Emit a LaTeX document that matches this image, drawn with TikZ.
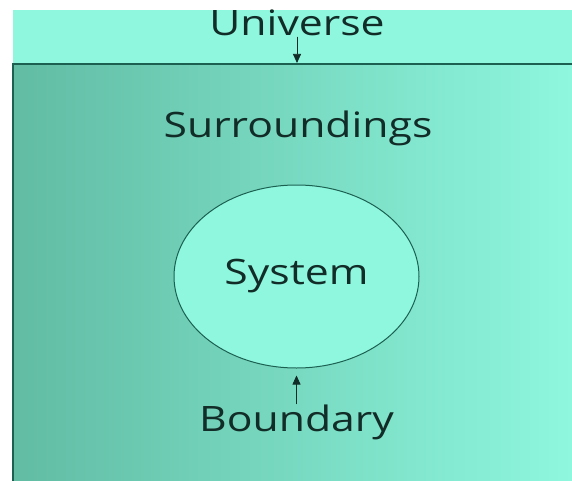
\documentclass[tikz,border=0pt]{standalone}
\usepackage{fontspec}
\usepackage{tikz}
\usetikzlibrary{arrows.meta,shapes.geometric}
\newfontfamily\labelfont[FakeStretch=1.22]{Open Sans}
\definecolor{universefill}{RGB}{142,247,222}
\definecolor{surrleft}{RGB}{98,188,164}
\definecolor{surrright}{RGB}{142,247,222}
\definecolor{edgeline}{RGB}{28,96,82}
\definecolor{labeltext}{RGB}{18,44,40}
\tikzset{
  labeltext/.style={font=\labelfont\fontsize{35}{40}\selectfont,text=labeltext,inner sep=0pt},
  pointer/.style={-{Triangle[length=9pt,width=8pt]},line width=0.7pt,draw=labeltext,fill=labeltext},
}
\begin{document}
\begin{tikzpicture}[x=1pt,y=-1pt]
  \useasboundingbox (0,0) rectangle (572,481);
  % universe band and surroundings box
  \fill[universefill] (13,10) rectangle (572,64);
  \shade[left color=surrleft,right color=surrright] (13,64) rectangle (572,481);
  \draw[edgeline,line width=1.5pt] (13,481) -- (13,64) -- (572,64);
  % labels
  \node[labeltext,anchor=base] (universe) at (297,36) {Universe};
  \coordinate (unitip) at (297,63);
  \node[labeltext,anchor=base] (surroundings) at (298,138) {Surroundings};
  \node[ellipse,draw=edgeline,line width=1pt,fill=surrright,minimum width=245pt,minimum height=183pt,labeltext] (system) at (296.5,276.5) {System};
  \node[labeltext,anchor=base] (boundary) at (296.5,431) {Boundary};
  % pointers
  \draw[pointer] (universe.south) -- (unitip);
  \draw[pointer,shorten >=7pt] (boundary.north) -- (system.south);
\end{tikzpicture}
\end{document}
